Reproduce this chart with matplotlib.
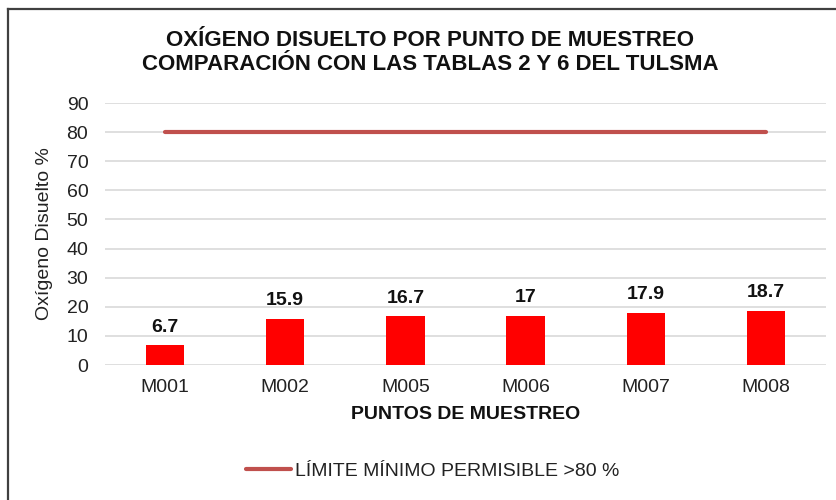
import matplotlib.pyplot as plt
from matplotlib.lines import Line2D

# --- data ---
puntos = ["M001", "M002", "M005", "M006", "M007", "M008"]
oxigeno = [6.7, 15.9, 16.7, 17, 17.9, 18.7]
limite = [80, 80, 80, 80, 80, 80]
etiquetas = ["6.7", "15.9", "16.7", "17", "17.9", "18.7"]

plt.rcParams['font.family'] = ['Liberation Sans', 'DejaVu Sans']

fig = plt.figure(figsize=(8.37, 5.0), dpi=100)
ax = fig.add_axes([0.1254, 0.27, 0.8616, 0.524])

x = list(range(len(puntos)))
bars = ax.bar(x, oxigeno, width=0.32, color='#FF0000', zorder=3)
ax.plot(x, limite, color='#C0504D', linewidth=3, solid_capstyle='round',
        zorder=4, label='LÍMITE MÍNIMO PERMISIBLE >80 %')

for xi, v, txt in zip(x, oxigeno, etiquetas):
    ax.annotate(txt, (xi, v), xytext=(0, 7), textcoords='offset points',
                ha='center', va='bottom', fontsize=14, fontweight='bold',
                color='#111111')

ax.set_xlim(-0.5, len(puntos) - 0.5)
ax.set_ylim(0, 90)
ax.set_yticks(range(0, 91, 10))
ax.set_xticks(x)
ax.set_xticklabels(puntos)
ax.tick_params(axis='both', length=0, labelsize=14, colors='#222222')
ax.tick_params(axis='x', pad=10)
ax.tick_params(axis='y', pad=12)
ax.grid(axis='y', color='#D9D9D9', linewidth=1.2, zorder=0)
for s in ax.spines.values():
    s.set_visible(False)

ax.set_ylabel('Oxígeno Disuelto %', fontsize=14, color='#222222', labelpad=6)
ax.yaxis.set_label_coords(-0.072, 0.50)
ax.set_xlabel('PUNTOS DE MUESTREO', fontsize=14, fontweight='bold',
              color='#111111', labelpad=7)

fig.text(0.514, 0.895, 'OXÍGENO DISUELTO POR PUNTO DE MUESTREO\n'
         'COMPARACIÓN CON LAS TABLAS 2 Y 6 DEL TULSMA',
         ha='center', va='center', fontsize=16, fontweight='bold',
         linespacing=1.25, color='#111111')

fig.legend(loc='center', bbox_to_anchor=(0.517, 0.058), frameon=False,
           fontsize=14, handlelength=2.3, handletextpad=0.2,
           labelcolor='#222222')

# outer frame (left and top edges)
fig.add_artist(Line2D([8 / 837, 8 / 837], [0, 1 - 9 / 500], color='#404040',
                      linewidth=1.6, transform=fig.transFigure))
fig.add_artist(Line2D([8 / 837, 1], [1 - 9 / 500, 1 - 9 / 500], color='#404040',
                      linewidth=1.6, transform=fig.transFigure))

fig.savefig('out.png', dpi=100)
